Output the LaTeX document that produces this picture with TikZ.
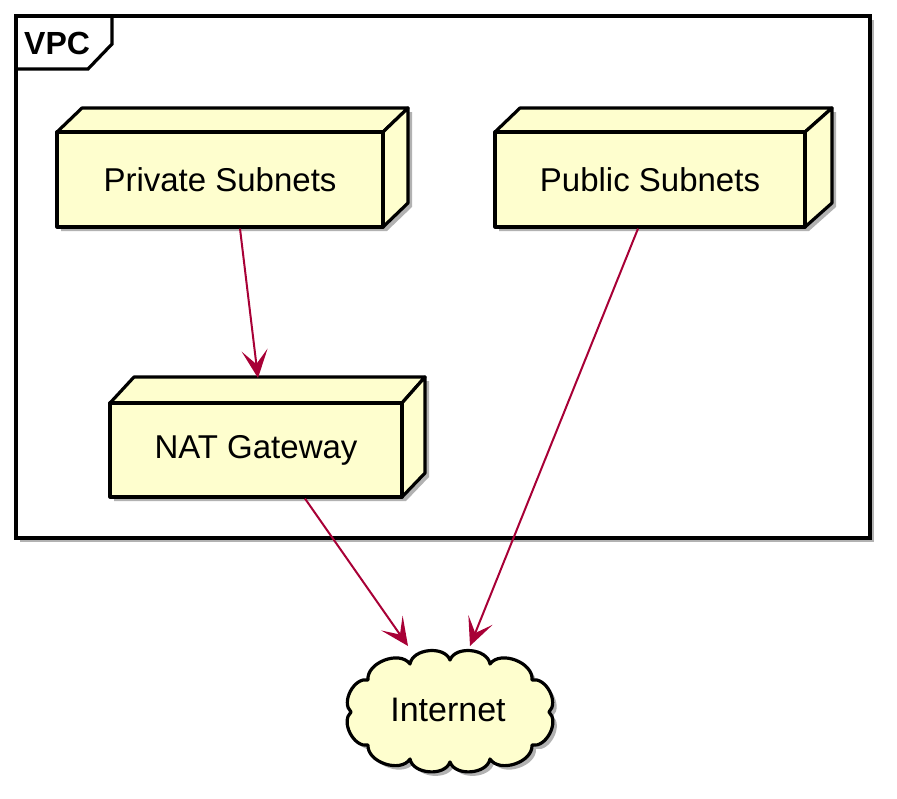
\documentclass[tikz,border=0pt]{standalone}
\usepackage{fontspec}
\setmainfont{Liberation Sans}
\usetikzlibrary{arrows.meta,shadows,calc}
\definecolor{nodefill}{HTML}{FEFECE}
\definecolor{arrowred}{HTML}{A80036}
\tikzset{
  boxface/.style={draw=black,line width=3.2pt,fill=nodefill,line join=round},
  boxfront/.style={boxface,inner sep=0pt,font=\fontsize{33}{33}\selectfont},
  conn/.style={draw=arrowred,line width=2pt,-{Stealth[length=28pt,width=26pt,inset=14pt]}},
}
\begin{document}
\begin{tikzpicture}[x=1pt,y=-1pt]
\useasboundingbox (0,0) rectangle (897,798);
% VPC frame
\path[fill=black,opacity=0.3] (20,20) rectangle (874,542);
\path[fill=white] (16,16) rectangle (870,538);
\draw[line width=3.2pt] (16,16) rectangle (870,538);
\draw[line width=3.2pt,line join=miter] (16,69) -- (88,69) -- (112,44) -- (112,16);
\node[anchor=west,font=\bfseries\fontsize{32}{32}\selectfont,inner sep=0pt] (vpc) at (24,43) {VPC};

% Private Subnets
\path[fill=black,opacity=0.3] (61,136) -- (86,112) -- (412,112) -- (412,207) -- (387,231) -- (61,231) -- cycle;
\draw[boxface] (57,132) -- (82,108) -- (408,108) -- (383,132) -- cycle;
\draw[boxface] (383,132) -- (408,108) -- (408,203) -- (383,227) -- cycle;
\node[boxfront,minimum width=326pt,minimum height=95pt] (priv) at (220,179.5) {Private Subnets};

% Public Subnets
\path[fill=black,opacity=0.3] (499,136) -- (524,112) -- (836,112) -- (836,207) -- (809,231) -- (499,231) -- cycle;
\draw[boxface] (495,132) -- (520,108) -- (832,108) -- (805,132) -- cycle;
\draw[boxface] (805,132) -- (832,108) -- (832,203) -- (805,227) -- cycle;
\node[boxfront,minimum width=310pt,minimum height=95pt] (pub) at (650,179.5) {Public Subnets};

% NAT Gateway
\path[fill=black,opacity=0.3] (114,407) -- (138,381) -- (429,381) -- (429,477) -- (406,501) -- (114,501) -- cycle;
\draw[boxface] (110,403) -- (134,377) -- (425,377) -- (402,403) -- cycle;
\draw[boxface] (402,403) -- (425,377) -- (425,473) -- (402,497) -- cycle;
\node[boxfront,minimum width=292pt,minimum height=94pt] (nat) at (256,450) {NAT Gateway};

% Internet cloud
\def\cloudpath{(368,680) to[bend left=75] (410,664) to[bend left=75] (450,660) to[bend left=75] (490,664) to[bend left=75] (532,680) to[bend left=75] (549,712) to[bend left=75] (532,745) to[bend left=75] (490,759) to[bend left=75] (450,762) to[bend left=75] (410,759) to[bend left=75] (368,745) to[bend left=75] (351,712) to[bend left=75] cycle}
\path[fill=black,opacity=0.3,shift={(4,4)}] \cloudpath;
\draw[boxface] \cloudpath;
\node[font=\fontsize{34}{34}\selectfont,inner sep=0pt] (inet) at (448,710) {Internet};
\coordinate (inetA) at (408,646);
\coordinate (inetB) at (470,646);
\coordinate (natTop) at (258,378);

% connectors
\draw[conn] ($(priv.south)+(20,0)$) -- (natTop);
\draw[conn] ($(nat.south)+(49,0)$) -- (inetA);
\draw[conn] ($(pub.south)+(-12,0)$) -- (inetB);
\end{tikzpicture}
\end{document}
